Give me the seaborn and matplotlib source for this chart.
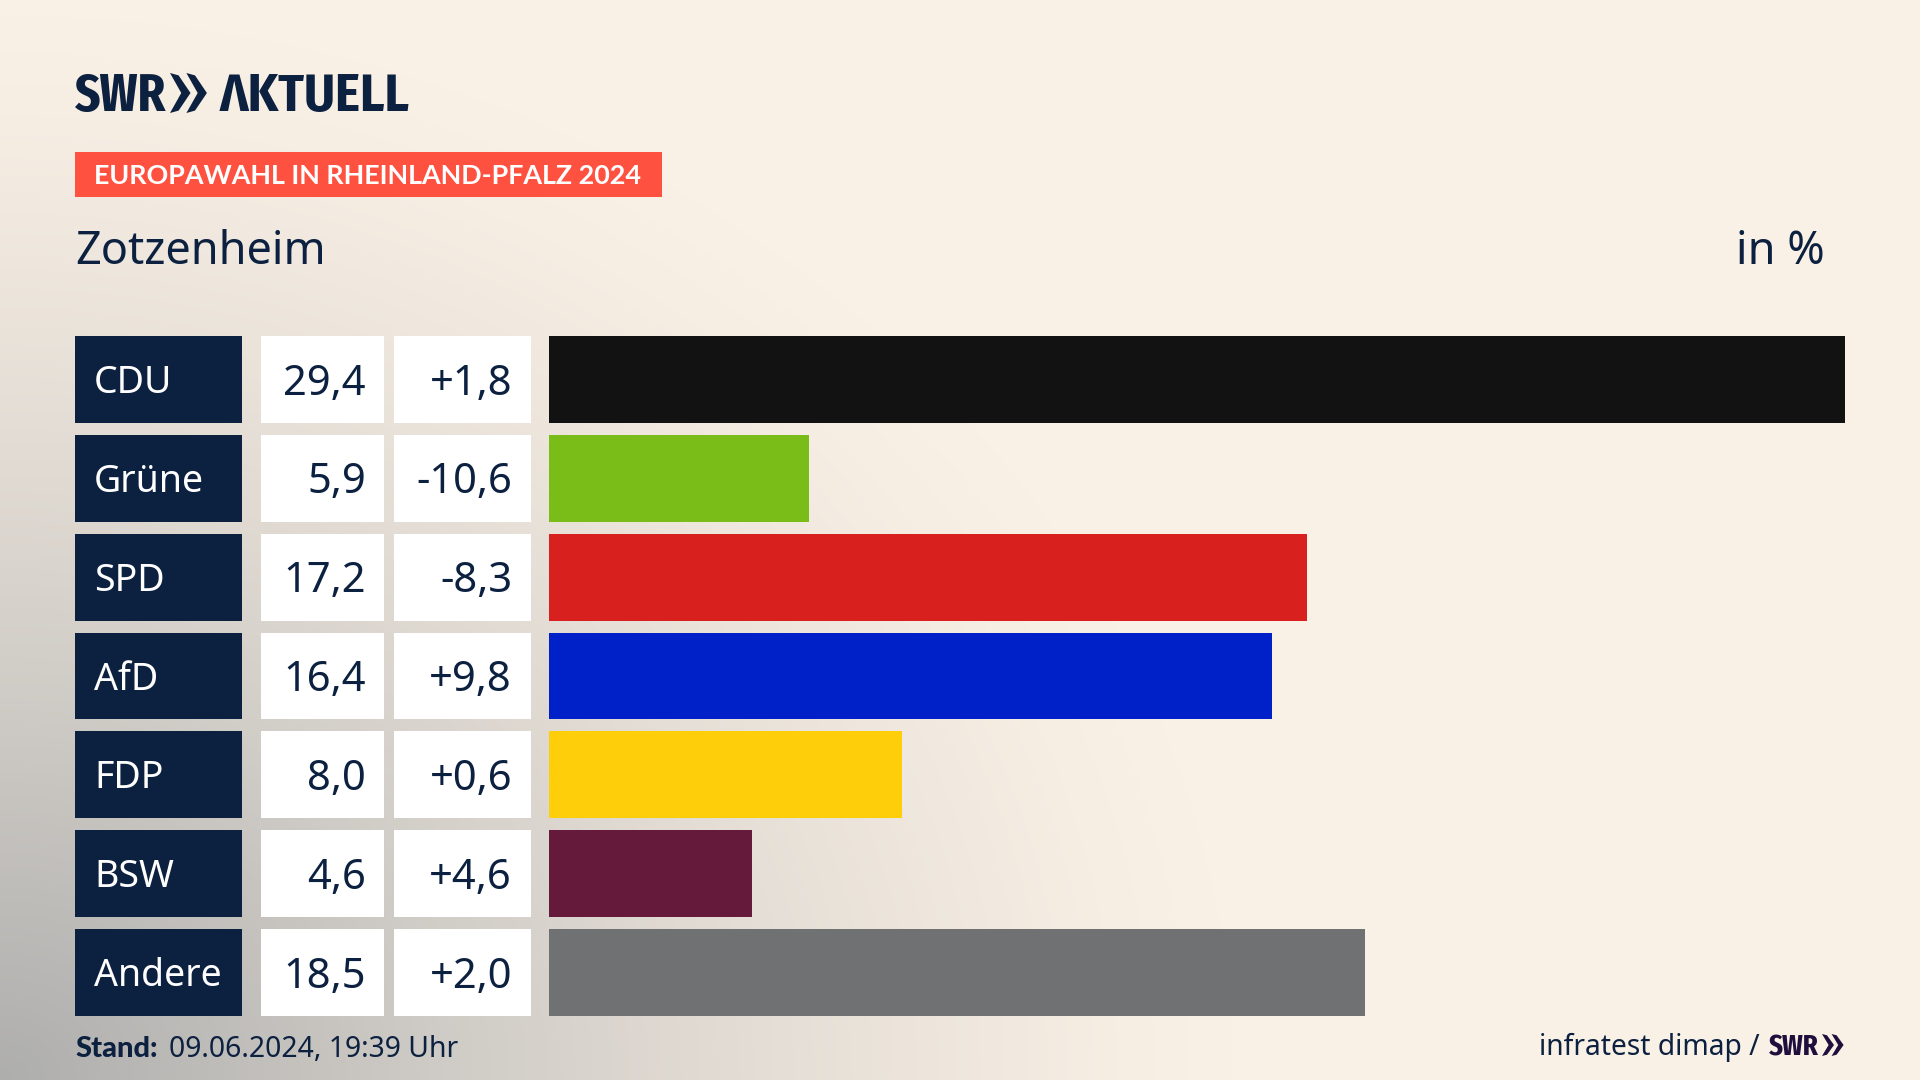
#!/usr/bin/env python3
import numpy as np
import pandas as pd
import matplotlib
matplotlib.use("Agg")
import matplotlib.pyplot as plt
from matplotlib.colors import LinearSegmentedColormap
from matplotlib.patches import Polygon, Rectangle
from matplotlib.transforms import IdentityTransform, blended_transform_factory
import seaborn as sns

WIDTH, HEIGHT = 1920, 1080

parties = ["CDU", "Grüne", "SPD", "AfD", "FDP", "BSW", "Andere"]
results = [29.4, 5.9, 17.2, 16.4, 8.0, 4.6, 18.5]
changes = [1.8, -10.6, -8.3, 9.8, 0.6, 4.6, 2.0]
party_colors = ["#121212", "#7ABD19", "#D8201F", "#0020C8", "#FFCE0A", "#651A3C", "#707173"]

NAVY = "#0C2040"
CREAM = "#FAF1E6"
FONT = ["Noto Sans", "DejaVu Sans"]
BOLD_FONT = ["Lato", "DejaVu Sans"]
LOGO_FONT = ["Fira Sans Extra Condensed", "Lato", "DejaVu Sans"]
TITLE_FONT = ["Fira Sans Condensed", "Lato", "DejaVu Sans"]

sns.set_theme(style="white")
plt.rcParams["font.family"] = FONT


def px(x, y):
    """Pixel von oben links -> Figure-Koordinaten."""
    return x / WIDTH, 1 - y / HEIGHT


def fig_text(fig, x, y, s, **kwargs):
    fx, fy = px(x, y)
    kwargs.setdefault("color", NAVY)
    kwargs.setdefault("va", "baseline")
    return fig.text(fx, fy, s, **kwargs)


def chevrons(fig, x, top, bottom, w, color):
    # Doppelpfeil aus dem SWR-Logo
    mid = (top + bottom) / 2
    for off in (0, w * 0.8):
        pts = [(x + off, top), (x + off + w * 0.42, top + (bottom - top) * 0.06),
               (x + off + w, mid), (x + off + w * 0.42, bottom - (bottom - top) * 0.06),
               (x + off, bottom), (x + off + w * 0.55, mid)]
        fig.add_artist(Polygon([px(a, b) for a, b in pts], closed=True, color=color, lw=0,
                               transform=fig.transFigure))


def draw_background(fig):
    ax = fig.add_axes([0, 0, 1, 1], zorder=-1)
    yy, xx = np.mgrid[0:HEIGHT, 0:WIDTH]
    r = np.sqrt((xx / 1250) ** 2 + ((HEIGHT - yy) / 1080) ** 2)
    t = np.clip(1 - r, 0, 1) ** 1.3
    cmap = LinearSegmentedColormap.from_list("bg", [CREAM, "#AEAEAD"])
    ax.imshow(t, cmap=cmap, vmin=0, vmax=1, aspect="auto")
    ax.axis("off")


def main():
    df = pd.DataFrame({"party": parties, "result": results, "change": changes})

    fig = plt.figure(figsize=(WIDTH / 100, HEIGHT / 100), dpi=100)
    draw_background(fig)

    # Balken
    ax = fig.add_axes([549 / WIDTH, 1 - 1016 / HEIGHT, (1845 - 549) / WIDTH, (1016 - 336) / HEIGHT])
    sns.barplot(data=df, x="result", y="party", hue="party", palette=party_colors,
                width=0.88, saturation=1, dodge=False, legend=False,
                linewidth=0, edgecolor="none", ax=ax)
    ax.set_xlim(0, max(results))
    ax.set_ylim(6.44, -0.44)
    ax.axis("off")

    # Tabellenzellen links neben den Balken
    trans = blended_transform_factory(IdentityTransform(), ax.transData)
    for i, row in df.iterrows():
        for x0, x1, color in [(75, 242, NAVY), (261, 384, "white"), (394, 531, "white")]:
            ax.add_patch(Rectangle((x0, i - 0.44), x1 - x0, 0.88, transform=trans,
                                   facecolor=color, edgecolor="none", lw=0, clip_on=False))
        text_kw = dict(transform=trans, va="center_baseline", clip_on=False)
        y = i - 0.01
        ax.text(94, y, row["party"], color="white", ha="left", fontsize=27, **text_kw)
        ax.text(366, y, f"{row['result']:.1f}".replace(".", ","), color=NAVY, ha="right",
                fontsize=30, **text_kw)
        ax.text(512, y, f"{row['change']:+.1f}".replace(".", ","), color=NAVY, ha="right",
                fontsize=30, **text_kw)

    # Kopf
    fig_text(fig, 75, 111, "SWR", fontsize=38.5, fontweight="bold", family=LOGO_FONT)
    chevrons(fig, 170, 73, 113, 20.5, NAVY)
    fig_text(fig, 220, 111, "ΛKTUELL", fontsize=38, fontweight="bold", family=TITLE_FONT)

    fig.add_artist(Rectangle(px(75, 197), 587 / WIDTH, 45 / HEIGHT, facecolor="#FF5140",
                             edgecolor="none", lw=0, transform=fig.transFigure))
    fig_text(fig, 94, 184, "EUROPAWAHL IN RHEINLAND-PFALZ 2024", color="white",
             fontsize=19.35, fontweight="bold", family=BOLD_FONT)
    fig_text(fig, 75, 264, "Zotzenheim", fontsize=32.4)
    fig_text(fig, 1825, 264, "in %", fontsize=32.4, ha="right")

    # Fuss
    fig_text(fig, 75, 1057, "Stand:", fontsize=21, fontweight=900, family=BOLD_FONT)
    fig_text(fig, 169, 1057, "09.06.2024, 19:39 Uhr", fontsize=20.4)
    fig_text(fig, 1760, 1055, "infratest dimap /", fontsize=20.3, ha="right")
    fig_text(fig, 1769, 1055, "SWR", fontsize=21, fontweight="bold", color="#1E0F3C", family=LOGO_FONT)
    chevrons(fig, 1822, 1034, 1056, 12, "#1E0F3C")

    fig.savefig("out.png", dpi=100)


if __name__ == "__main__":
    main()
